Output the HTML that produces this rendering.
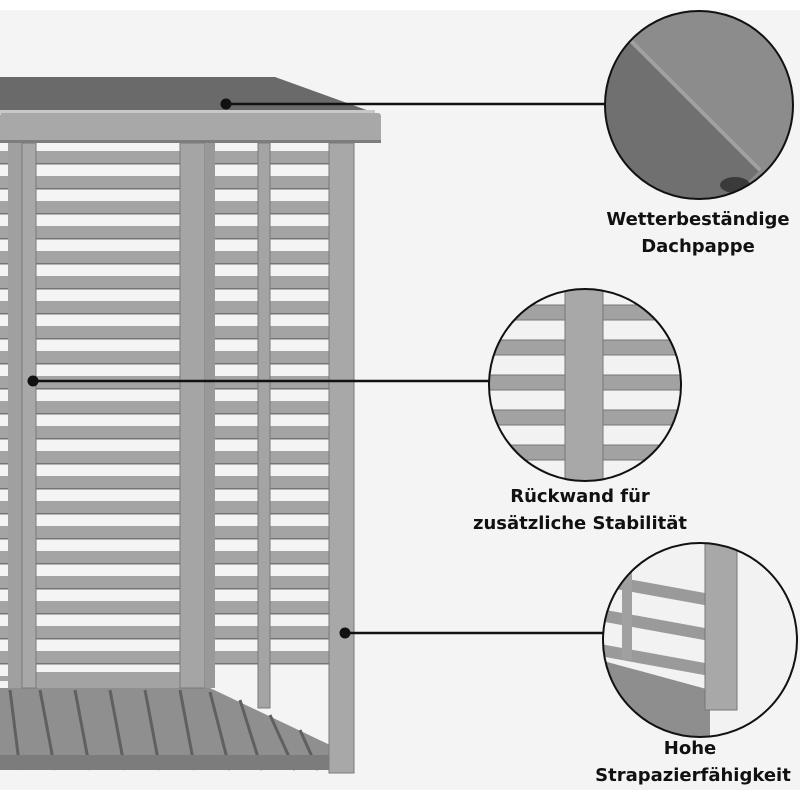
<!DOCTYPE html>
<html><head><meta charset="utf-8"><style>
html,body{margin:0;padding:0;background:#fff}
svg{display:block}
text{font-family:"DejaVu Sans","Liberation Sans",sans-serif;font-weight:bold;fill:#111;font-size:18px}
</style></head><body>
<svg width="800" height="800" viewBox="0 0 800 800" xmlns="http://www.w3.org/2000/svg">
<defs>
<pattern id="hs" width="10" height="25" patternUnits="userSpaceOnUse" y="151">
<rect width="10" height="13" fill="#a4a4a4"/><rect y="12" width="10" height="1.5" fill="#747474"/>
</pattern>
<clipPath id="c1"><circle cx="699" cy="105" r="94"/></clipPath>
<clipPath id="c2"><circle cx="585" cy="385" r="96"/></clipPath>
<clipPath id="c3"><circle cx="700" cy="640" r="97"/></clipPath>
</defs>
<rect x="0" y="10" width="800" height="780" fill="#f4f4f4"/>
<!-- roof -->
<polygon points="0,77 275,77 372,112 0,112" fill="#6a6a6a"/>
<rect x="0" y="110" width="375" height="4" fill="#c8c8c8"/>
<rect x="0" y="113" width="381" height="30" rx="3" fill="#a8a8a8"/>
<rect x="0" y="140" width="381" height="3" fill="#7d7d7d"/>
<!-- slats -->
<rect x="0" y="151" width="180" height="530" fill="url(#hs)"/>
<rect x="205" y="151" width="124" height="520" fill="url(#hs)"/>
<rect x="36" y="672" width="145" height="17" fill="#a3a3a3"/>
<!-- floor -->
<polygon points="0,688 210,688 330,745 330,770 0,770" fill="#8f8f8f"/>
<g stroke="#606060" stroke-width="3">
<line x1="10" y1="690" x2="20" y2="770"/><line x1="40" y1="690" x2="55" y2="770"/>
<line x1="75" y1="690" x2="90" y2="770"/><line x1="110" y1="690" x2="125" y2="770"/>
<line x1="145" y1="690" x2="160" y2="770"/><line x1="180" y1="690" x2="195" y2="770"/>
<line x1="210" y1="692" x2="230" y2="770"/><line x1="240" y1="700" x2="262" y2="770"/>
<line x1="270" y1="715" x2="295" y2="770"/><line x1="300" y1="730" x2="318" y2="770"/>
</g>
<rect x="0" y="755" width="330" height="15" fill="#7c7c7c"/>
<!-- posts -->
<rect x="8" y="143" width="14" height="545" fill="#a0a0a0"/>
<rect x="22" y="143" width="14" height="545" fill="#a8a8a8" stroke="#7a7a7a"/>
<rect x="180" y="143" width="25" height="545" fill="#a5a5a5" stroke="#7a7a7a"/>
<rect x="205" y="143" width="10" height="545" fill="#999"/>
<rect x="258" y="143" width="12" height="565" fill="#a4a4a4" stroke="#7a7a7a"/>
<rect x="329" y="143" width="25" height="630" fill="#a8a8a8" stroke="#7a7a7a"/>
<!-- connectors -->
<g stroke="#111" stroke-width="2.5">
<line x1="226" y1="104" x2="605" y2="104"/>
<line x1="33" y1="381" x2="490" y2="381"/>
<line x1="345" y1="633" x2="605" y2="633"/>
</g>
<circle cx="226" cy="104" r="5.5" fill="#111"/>
<circle cx="33" cy="381" r="5.5" fill="#111"/>
<circle cx="345" cy="633" r="5.5" fill="#111"/>
<!-- circle 1 -->
<g clip-path="url(#c1)">
<rect x="600" y="10" width="200" height="200" fill="#8c8c8c"/>
<polygon points="600,40 630,40 760,170 730,200 600,200" fill="#707070"/>
<line x1="630" y1="40" x2="760" y2="170" stroke="#a0a0a0" stroke-width="4"/>
<ellipse cx="735" cy="185" rx="15" ry="8" fill="#3a3a3a"/>
</g>
<circle cx="699" cy="105" r="94" fill="none" stroke="#111" stroke-width="2"/>
<!-- circle 2 -->
<g clip-path="url(#c2)">
<rect x="485" y="285" width="200" height="200" fill="#f2f2f2"/>
<g fill="#a2a2a2" stroke="#777"><rect x="485" y="305" width="200" height="15"/><rect x="485" y="340" width="200" height="15"/><rect x="485" y="375" width="200" height="15"/><rect x="485" y="410" width="200" height="15"/><rect x="485" y="445" width="200" height="15"/></g>
<rect x="565" y="285" width="38" height="200" fill="#a8a8a8" stroke="#777"/>
</g>
<circle cx="585" cy="385" r="96" fill="none" stroke="#111" stroke-width="2"/>
<!-- circle 3 -->
<g clip-path="url(#c3)">
<rect x="600" y="540" width="200" height="200" fill="#f2f2f2"/>
<g stroke="#9a9a9a" stroke-width="12"><line x1="600" y1="580" x2="710" y2="600"/><line x1="600" y1="615" x2="710" y2="635"/><line x1="600" y1="650" x2="710" y2="670"/></g>
<rect x="622" y="540" width="10" height="120" fill="#a0a0a0"/>
<polygon points="600,660 710,690 710,740 600,740" fill="#8e8e8e"/>
<rect x="705" y="540" width="32" height="170" fill="#a8a8a8" stroke="#777"/>
</g>
<circle cx="700" cy="640" r="97" fill="none" stroke="#111" stroke-width="2"/>
<!-- labels -->
<text x="698" y="225" text-anchor="middle">Wetterbeständige</text>
<text x="698" y="252" text-anchor="middle">Dachpappe</text>
<text x="580" y="502" text-anchor="middle">Rückwand für</text>
<text x="580" y="529" text-anchor="middle">zusätzliche Stabilität</text>
<text x="690" y="754" text-anchor="middle">Hohe</text>
<text x="693" y="781" text-anchor="middle">Strapazierfähigkeit</text>
</svg>
</body></html>
